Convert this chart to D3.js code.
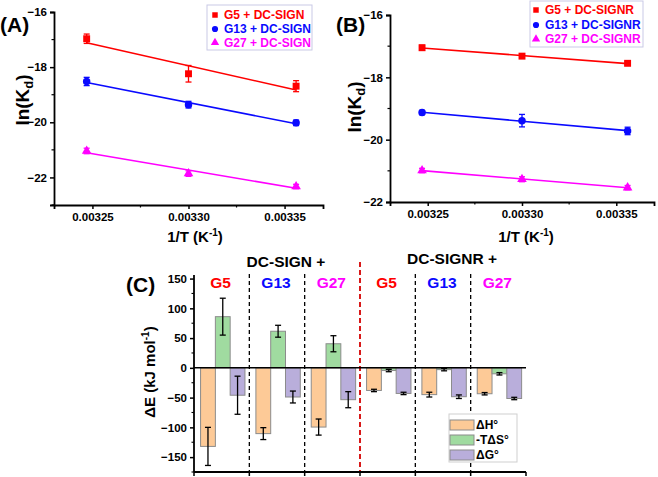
<!DOCTYPE html>
<html><head><meta charset="utf-8">
<script src="https://cdn.jsdelivr.net/npm/d3@7"></script>
<style>
body{margin:0;background:#fff}
svg{display:block}
text{font-family:"Liberation Sans",Arial,sans-serif}
</style>
</head><body><svg id="c" width="658" height="477"></svg>
<script>
// ---------- data ----------
const invT = [0.003247, 0.0033, 0.003356];
const seriesNames = ["G5", "G13", "G27"];
const seriesColors = ["#ff0000", "#0a0aff", "#ff00ff"];
const aLabels = ["G5 + DC-SIGN", "G13 + DC-SIGN", "G27 + DC-SIGN"];
const bLabels = ["G5 + DC-SIGNR", "G13 + DC-SIGNR", "G27 + DC-SIGNR"];
const aValues = [[-16.97, -18.24, -18.69], [-18.52, -19.36, -20.02], [-21.04, -21.86, -22.33]];
const aErrors = [[0.17, 0.3, 0.2], [0.15, 0.12, 0.1], [0.1, 0.1, 0.08]];
const bValues = [[-17.05, -17.32, -17.55], [-19.13, -19.39, -19.72], [-20.99, -21.27, -21.54]];
const bErrors = [[0.08, 0.06, 0.05], [0.07, 0.2, 0.12], [0.07, 0.08, 0.07]];
const xTicks = [0.00325, 0.0033, 0.00335];
const aYTicks = [-16, -18, -20, -22];
const bYTicks = [-16, -18, -20, -22];

const receptors = ["DC-SIGN +", "DC-SIGNR +"];
const groupNames = ["G5", "G13", "G27", "G5", "G13", "G27"];
const groupColors = ["#ff0000", "#0a0aff", "#ff00ff", "#ff0000", "#0a0aff", "#ff00ff"];
const energyTerms = ["ΔH°", "-TΔS°", "ΔG°"];
const energyColors = ["#fdca97", "#a0dba0", "#b9aedb"];
const dH = [-132, -110.5, -99.5, -38, -45, -43.5];
const dHerr = [32, 10, 13.5, 2, 4, 2];
const mTdS = [86, 61.5, 40.5, -4.5, -3, -10];
const mTdSerr = [31, 10, 13.5, 2, 2, 2];
const dG = [-46, -49, -53.5, -43, -48.5, -51.5];
const dGerr = [32, 10, 13.5, 2, 3, 2];
const cYTicks = [150, 100, 50, 0, -50, -100, -150];

// ---------- drawing ----------
const svg = d3.select("#c");
const symbolTypes = [d3.symbolSquare, d3.symbolCircle, d3.symbolTriangle];
const symbolSizes = [48, 44, 40];

function scatterPanel(o) {
  const g = svg.append("g");
  const x = d3.scaleLinear().domain([0.00323, 0.00337]).range([o.x0, o.x1]);
  const y = d3.scaleLinear().domain(o.yDomain).range([o.y1, o.y0]);

  const yAx = d3.axisLeft(y).tickValues(o.yTicks).tickSize(4).tickPadding(3).tickFormat(d3.format("d"));
  const yG = g.append("g").attr("transform", `translate(${o.x0},0)`).call(yAx);
  const xAx = d3.axisBottom(x).tickValues(xTicks).tickSize(4).tickPadding(4).tickFormat(d3.format(".5f"));
  const xG = g.append("g").attr("transform", `translate(0,${o.y1})`).call(xAx);
  [yG, xG].forEach(a => {
    a.select(".domain").attr("stroke", "#000").attr("stroke-width", 1.8);
    a.selectAll(".tick line").attr("stroke", "#000").attr("stroke-width", 1.5);
    a.selectAll("text").attr("fill", "#000").attr("font-size", 11.5).attr("font-weight", "bold")
      .attr("font-family", "Liberation Sans, Arial, sans-serif");
  });
  const minorY = d3.range(o.yDomain[0], o.yDomain[1] + 0.01, 1).filter(v => !o.yTicks.includes(v));
  g.selectAll(".my").data(minorY).join("line")
    .attr("x1", o.x0 - 2.5).attr("x2", o.x0).attr("y1", d => y(d)).attr("y2", d => y(d))
    .attr("stroke", "#000").attr("stroke-width", 1.2);
  const minorX = [0.003275, 0.003325];
  g.selectAll(".mx").data(minorX).join("line")
    .attr("x1", d => x(d)).attr("x2", d => x(d)).attr("y1", o.y1).attr("y2", o.y1 + 2.5)
    .attr("stroke", "#000").attr("stroke-width", 1.2);

  o.values.forEach((vals, i) => {
    const col = seriesColors[i];
    const mx = d3.mean(invT), my = d3.mean(vals);
    const sxy = d3.sum(invT.map((t, k) => (t - mx) * (vals[k] - my)));
    const sxx = d3.sum(invT.map(t => (t - mx) ** 2));
    const slope = sxy / sxx, icpt = my - slope * mx;
    const xs = [invT[0], invT[invT.length - 1]];
    g.append("line")
      .attr("x1", x(xs[0])).attr("y1", y(icpt + slope * xs[0]))
      .attr("x2", x(xs[1])).attr("y2", y(icpt + slope * xs[1]))
      .attr("stroke", col).attr("stroke-width", 1.6);
    vals.forEach((v, k) => {
      const e = o.errors[i][k], cx = x(invT[k]);
      g.append("line").attr("x1", cx).attr("x2", cx).attr("y1", y(v - e)).attr("y2", y(v + e))
        .attr("stroke", col).attr("stroke-width", 1.3);
      [v - e, v + e].forEach(w => g.append("line").attr("x1", cx - 3).attr("x2", cx + 3)
        .attr("y1", y(w)).attr("y2", y(w)).attr("stroke", col).attr("stroke-width", 1.3));
    });
    g.selectAll(null).data(vals).join("path")
      .attr("d", d3.symbol().type(symbolTypes[i]).size(symbolSizes[i]))
      .attr("transform", (d, k) => `translate(${x(invT[k])},${y(d)})`)
      .attr("fill", col);
  });

  const L = o.legend;
  g.append("rect").attr("x", L.x).attr("y", L.y).attr("width", L.w).attr("height", L.h)
    .attr("fill", "#fff").attr("stroke", "#c9c9e6").attr("stroke-width", 1);
  o.labels.forEach((lab, i) => {
    const ly = L.rows[i];
    g.append("path").attr("d", d3.symbol().type(symbolTypes[i]).size(30)())
      .attr("transform", `translate(${L.sx},${ly})`).attr("fill", seriesColors[i]);
    g.append("text").attr("x", L.tx).attr("y", ly).attr("dy", "0.36em")
      .attr("font-size", 12).attr("font-weight", "bold").attr("fill", seriesColors[i]).text(lab);
  });

  const yt = g.append("text").attr("transform", `translate(${o.yTitleX},${o.yTitleY}) rotate(-90)`)
    .attr("text-anchor", "middle").attr("font-size", 19).attr("font-weight", "bold");
  yt.append("tspan").text("ln(K");
  yt.append("tspan").attr("font-size", 13).attr("dy", 4).text("d");
  yt.append("tspan").attr("dy", -4).text(")");
  const xt = g.append("text").attr("x", o.xTitleX).attr("y", 242)
    .attr("text-anchor", "middle").attr("font-size", 15).attr("font-weight", "bold");
  xt.append("tspan").text("1/T (K");
  xt.append("tspan").attr("font-size", 10).attr("dy", -6).text("-1");
  xt.append("tspan").attr("dy", 6).text(")");

  g.append("text").attr("x", o.labX).attr("y", 32).attr("font-size", 21).attr("font-weight", "bold")
    .attr("font-family", o.labFont).text(o.panel);
}

scatterPanel({
  x0: 54, x1: 323, y0: 12, y1: 205, yDomain: [-23, -16], yTicks: aYTicks,
  values: aValues, errors: aErrors, labels: aLabels,
  legend: { x: 207, y: 5, w: 105, h: 45, sx: 215, tx: 224, rows: [15, 29, 42.5] },
  yTitleX: 29, yTitleY: 100, xTitleX: 195, panel: "(A)", labX: 0, labFont: "Liberation Sans, Arial, sans-serif"
});
scatterPanel({
  x0: 390, x1: 654, y0: 15, y1: 202, yDomain: [-22, -16], yTicks: bYTicks,
  values: bValues, errors: bErrors, labels: bLabels,
  legend: { x: 530, y: 1, w: 113, h: 46, sx: 536, tx: 545, rows: [10, 25, 39] },
  yTitleX: 361, yTitleY: 107, xTitleX: 526, panel: "(B)", labX: 336, labFont: "Lato, sans-serif"
});

// ---------- panel C ----------
(function () {
  const g = svg.append("g");
  const X0 = 194, X1 = 526, Ytop = 275, Ybot = 472;
  const y = d3.scaleLinear().domain([-175, 156]).range([Ybot, Ytop]);
  const gx = d3.scaleBand().domain(d3.range(groupNames.length)).range([X0, X1]).padding(0);
  const bx = d3.scaleBand().domain(d3.range(3)).range([0, gx.bandwidth()])
    .paddingInner(0).paddingOuter(0.37).align(0.6);
  const series = [[dH, dHerr], [mTdS, mTdSerr], [dG, dGerr]];

  d3.range(1, groupNames.length).forEach(i => {
    const xx = gx(i);
    const red = i === 3;
    g.append("line").attr("x1", xx).attr("x2", xx).attr("y1", red ? 262 : 274).attr("y2", Ybot)
      .attr("stroke", red ? "#d40000" : "#000").attr("stroke-width", red ? 1.8 : 1.3)
      .attr("stroke-dasharray", red ? "5,3" : "4,3");
  });

  series.forEach(([vals, errs], j) => {
    vals.forEach((v, i) => {
      const bxl = gx(i) + bx(j);
      g.append("rect").attr("x", bxl).attr("width", bx.bandwidth())
        .attr("y", Math.min(y(0), y(v))).attr("height", Math.abs(y(v) - y(0)))
        .attr("fill", energyColors[j]).attr("stroke", "#8c8c8c").attr("stroke-width", 1);
    });
  });
  g.append("line").attr("x1", X0).attr("x2", X1).attr("y1", y(0)).attr("y2", y(0))
    .attr("stroke", "#000").attr("stroke-width", 1.5);
  series.forEach(([vals, errs], j) => {
    vals.forEach((v, i) => {
      const cx = gx(i) + bx(j) + bx.bandwidth() / 2, e = errs[i];
      g.append("line").attr("x1", cx).attr("x2", cx).attr("y1", y(v - e)).attr("y2", y(v + e))
        .attr("stroke", "#000").attr("stroke-width", 1.3);
      [v - e, v + e].forEach(w => g.append("line").attr("x1", cx - 3).attr("x2", cx + 3)
        .attr("y1", y(w)).attr("y2", y(w)).attr("stroke", "#000").attr("stroke-width", 1.3));
    });
  });

  const yAx = d3.axisLeft(y).tickValues(cYTicks).tickSize(4).tickPadding(3);
  const yG = g.append("g").attr("transform", `translate(${X0},0)`).call(yAx);
  yG.select(".domain").attr("d", `M0,${Ytop}V${Ybot}`);
  g.selectAll(".mc").data(d3.range(-175, 150, 50)).join("line")
    .attr("x1", X0 - 2.5).attr("x2", X0).attr("y1", d => y(d)).attr("y2", d => y(d))
    .attr("stroke", "#000").attr("stroke-width", 1.1);
  const xG = g.append("g").attr("transform", `translate(0,${Ybot})`);
  xG.append("line").attr("x1", X0).attr("x2", X1).attr("stroke", "#000").attr("stroke-width", 1.8);
  xG.selectAll(".t").data(d3.range(groupNames.length + 1)).join("line")
    .attr("x1", d => X0 + d * gx.step()).attr("x2", d => X0 + d * gx.step())
    .attr("y1", 0).attr("y2", 4).attr("stroke", "#000").attr("stroke-width", 1.5);
  yG.select(".domain").attr("stroke", "#000").attr("stroke-width", 1.8);
  yG.selectAll(".tick line").attr("stroke", "#000").attr("stroke-width", 1.5);
  yG.selectAll("text").attr("font-size", 11.5).attr("font-weight", "bold")
    .attr("font-family", "Liberation Sans, Arial, sans-serif").attr("fill", "#000");

  groupNames.forEach((n, i) => {
    g.append("text").attr("x", gx(i) + gx.bandwidth() / 2 - 1).attr("y", 288)
      .attr("text-anchor", "middle").attr("font-family", "Lato, sans-serif")
      .attr("font-size", 15.5).attr("font-weight", "bold").attr("fill", groupColors[i]).text(n);
  });
  g.append("text").attr("x", 286).attr("y", 267).attr("text-anchor", "middle")
    .attr("font-family", "Lato, sans-serif").attr("font-size", 15.5).attr("font-weight", "bold").text(receptors[0]);
  g.append("text").attr("x", 452).attr("y", 264).attr("text-anchor", "middle")
    .attr("font-family", "Lato, sans-serif").attr("font-size", 15.5).attr("font-weight", "bold").text(receptors[1]);
  g.append("text").attr("x", 126).attr("y", 292).attr("font-family", "Lato, sans-serif")
    .attr("font-size", 21).attr("font-weight", "bold").text("(C)");

  const yt = g.append("text").attr("transform", "translate(155,372) rotate(-90)")
    .attr("text-anchor", "middle").attr("font-size", 15).attr("font-weight", "bold");
  yt.append("tspan").text("ΔE (kJ mol");
  yt.append("tspan").attr("font-size", 10).attr("dy", -6).text("-1");
  yt.append("tspan").attr("dy", 6).text(")");

  const lg = g.append("g");
  lg.append("rect").attr("x", 449).attr("y", 414).attr("width", 68).attr("height", 48)
    .attr("fill", "#fff").attr("stroke", "#cfcfcf").attr("stroke-width", 1);
  energyTerms.forEach((t, j) => {
    const ry = 420 + j * 15;
    lg.append("rect").attr("x", 450).attr("y", ry).attr("width", 24).attr("height", 10)
      .attr("fill", energyColors[j]).attr("stroke", "#8c8c8c");
    lg.append("text").attr("x", 476).attr("y", ry + 5).attr("dy", "0.36em")
      .attr("font-size", 12).attr("font-weight", "bold").text(t);
  });
})();
</script>
</body></html>
